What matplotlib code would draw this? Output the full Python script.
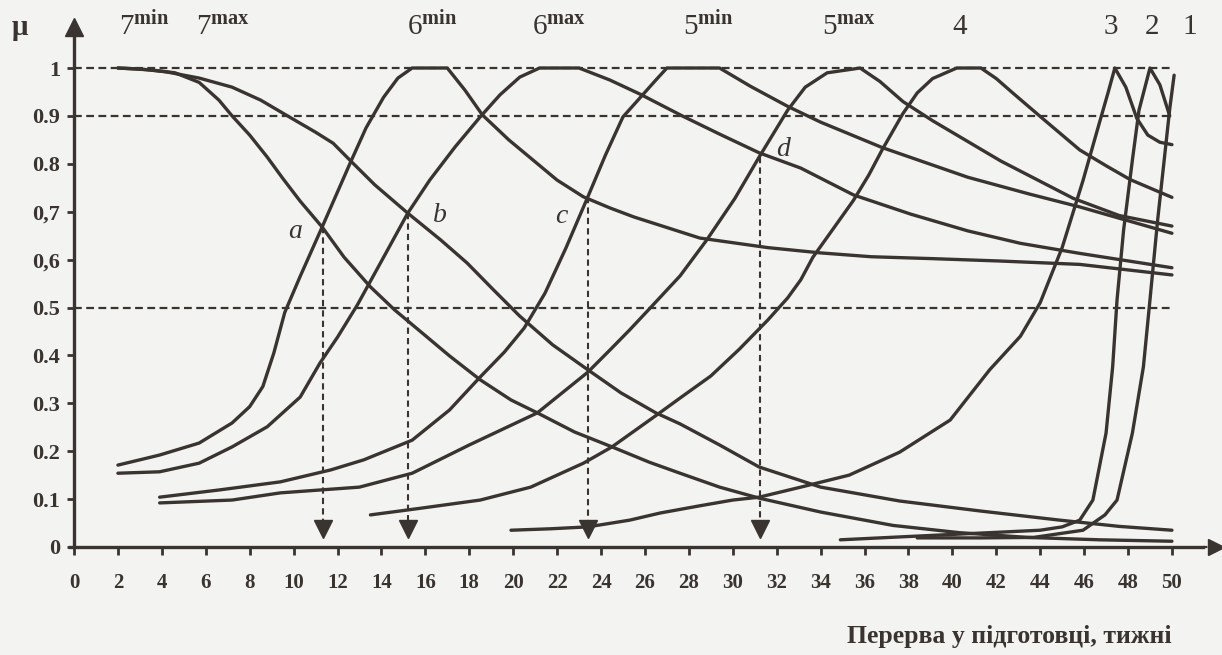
import matplotlib
matplotlib.use("Agg")
import matplotlib.pyplot as plt

# ---------------- data (weeks, membership) ----------------
w_7min = [2, 3.5, 4.6, 5.7, 6.6, 7.2, 8.0, 8.8, 9.5, 10.3, 11.3, 12.3, 13.5, 14.6, 15.8, 17.1,
          18.5, 19.9, 21.1, 22.8, 24.5, 26.2, 27.6, 29.4, 31.2, 34.0, 37.3, 40.3, 43.4, 46.7, 50]
m_7min = [1.0, 0.996, 0.99, 0.97, 0.933, 0.90, 0.86, 0.814, 0.77, 0.722, 0.668, 0.605, 0.543, 0.495,
          0.449, 0.399, 0.349, 0.307, 0.28, 0.24, 0.209, 0.177, 0.154, 0.125, 0.102, 0.073, 0.045,
          0.03, 0.02, 0.015, 0.012]

w_7max = [2, 3.0, 4.2, 5.7, 7.2, 8.5, 9.8, 11.0, 11.8, 12.6, 13.7, 15.2, 16.7, 17.9, 19.1, 20.3,
          21.8, 23.4, 24.9, 26.5, 27.6, 29.4, 31.2, 34.0, 37.6, 41.3, 44.9, 47.6, 50]
m_7max = [1.0, 0.998, 0.992, 0.979, 0.96, 0.933, 0.898, 0.866, 0.843, 0.806, 0.756, 0.697, 0.641,
          0.593, 0.537, 0.482, 0.422, 0.37, 0.322, 0.28, 0.257, 0.213, 0.167, 0.125, 0.096, 0.075,
          0.056, 0.043, 0.035]

w_6min = [2, 3.0, 3.9, 5.7, 7.2, 8.0, 8.6, 9.1, 9.6, 10.3, 11.3, 12.6, 13.3, 14.1, 14.75, 15.4,
          17.0, 17.8, 18.6, 19.8, 20.9, 22.0, 23.2, 24.4, 25.5, 28.5, 31.6, 34.0, 36.3, 39.1, 42.2,
          45.8, 50]
m_6min = [0.171, 0.182, 0.192, 0.217, 0.259, 0.293, 0.335, 0.405, 0.49, 0.565, 0.668, 0.804, 0.875,
          0.939, 0.979, 1.0, 1.0, 0.954, 0.902, 0.85, 0.808, 0.766, 0.731, 0.708, 0.689, 0.645,
          0.625, 0.614, 0.606, 0.602, 0.597, 0.59, 0.568]

w_6max = [2, 3.9, 5.7, 7.2, 8.8, 10.3, 11.2, 12.0, 12.9, 14.1, 15.2, 16.2, 17.35, 18.5, 19.4, 20.3,
          21.2, 23.0, 24.4, 25.8, 27.7, 29.4, 31.2, 33.1, 35.5, 38.1, 40.7, 43.1, 45.8, 50]
m_6max = [0.154, 0.157, 0.175, 0.209, 0.251, 0.313, 0.384, 0.438, 0.505, 0.605, 0.697, 0.766, 0.835,
          0.898, 0.944, 0.981, 1.0, 1.0, 0.975, 0.945, 0.9, 0.862, 0.823, 0.791, 0.735, 0.695,
          0.66, 0.634, 0.613, 0.583]

w_5min = [3.9, 6.6, 9.4, 11.7, 13.2, 15.4, 17.1, 18.5, 19.6, 20.5, 21.45, 22.4, 23.4, 24.2, 25.0,
          25.8, 26.5, 27.0, 29.4, 30.8, 32.5, 34.0, 36.8, 40.7, 43.5, 45.8, 50]
m_5min = [0.104, 0.119, 0.136, 0.161, 0.182, 0.223, 0.286, 0.355, 0.407, 0.457, 0.53, 0.624, 0.731,
          0.818, 0.898, 0.939, 0.975, 1.0, 1.0, 0.962, 0.92, 0.887, 0.834, 0.772, 0.737, 0.71, 0.655]

w_5max = [3.9, 7.2, 9.4, 11.2, 13.0, 15.4, 18.0, 21.1, 23.4, 24.4, 25.3, 26.2, 27.6, 28.8, 30.1,
          31.2, 32.5, 33.3, 34.3, 35.8, 36.7, 37.75, 39.1, 42.2, 45.5, 47.6, 50]
m_5max = [0.092, 0.098, 0.113, 0.119, 0.125, 0.154, 0.213, 0.28, 0.365, 0.411, 0.453, 0.497, 0.566,
          0.64, 0.728, 0.814, 0.912, 0.96, 0.99, 1.0, 0.972, 0.93, 0.89, 0.806, 0.728, 0.692, 0.67]

w_4 = [13.5, 15.8, 18.5, 20.8, 23.2, 24.5, 26.55, 27.6, 29.0, 30.3, 31.6, 32.5, 33.1, 33.65, 34.6,
       35.5, 36.2, 36.8, 37.75, 38.4, 39.1, 40.2, 41.3, 42.0, 42.8, 44.1, 45.8, 47.0, 48.1, 50]
m_4 = [0.067, 0.081, 0.098, 0.125, 0.175, 0.209, 0.276, 0.311, 0.357, 0.413, 0.474, 0.52, 0.558,
       0.605, 0.666, 0.724, 0.777, 0.829, 0.905, 0.948, 0.978, 1.0, 1.0, 0.978, 0.946, 0.895, 0.829,
       0.796, 0.767, 0.73]

w_3 = [19.9, 21.7, 23.4, 25.3, 26.7, 28.5, 30.0, 31.2, 33.1, 35.3, 37.6, 39.9, 41.7, 43.1, 44.0,
       45.0, 45.95, 46.6, 47.1, 47.4, 47.9, 48.4, 48.9, 49.45, 50]
m_3 = [0.035, 0.038, 0.042, 0.056, 0.071, 0.086, 0.098, 0.104, 0.125, 0.15, 0.198, 0.265, 0.37,
       0.44, 0.51, 0.625, 0.765, 0.87, 0.95, 1.0, 0.96, 0.895, 0.86, 0.845, 0.84]

w_2 = [34.9, 37.6, 40.35, 42.2, 44.0, 45.0, 45.8, 46.4, 47.0, 47.3, 47.5, 47.8, 48.2, 48.5, 49.0,
       49.45, 49.9]
m_2 = [0.015, 0.021, 0.027, 0.031, 0.035, 0.042, 0.056, 0.098, 0.238, 0.376, 0.516, 0.662, 0.808,
       0.912, 1.0, 0.965, 0.9]

w_1 = [38.4, 41.3, 43.7, 45.95, 46.95, 47.5, 48.2, 48.7, 49.0, 49.35, 49.7, 49.9, 50.1]
m_1 = [0.019, 0.019, 0.02, 0.035, 0.067, 0.098, 0.238, 0.376, 0.516, 0.683, 0.83, 0.915, 0.985]

curves = [(w_7min, m_7min), (w_7max, m_7max), (w_6min, m_6min), (w_6max, m_6max),
          (w_5min, m_5min), (w_5max, m_5max), (w_4, m_4), (w_3, m_3), (w_2, m_2), (w_1, m_1)]

# term labels above the curves
term_labels = [r"$7^{\mathbf{min}}$", r"$7^{\mathbf{max}}$", r"$6^{\mathbf{min}}$", r"$6^{\mathbf{max}}$",
               r"$5^{\mathbf{min}}$", r"$5^{\mathbf{max}}$", "4", "3", "2", "1"]
term_label_w = [3.2, 6.8, 16.3, 22.1, 28.9, 35.3, 40.35, 47.2, 49.1, 50.8]

# intersection points a, b, c, d (week, membership)
point_names = ["a", "b", "c", "d"]
point_w = [11.34, 15.2, 23.4, 31.24]
point_m = [0.668, 0.697, 0.731, 0.814]

x_ticks = list(range(0, 51, 2))
y_ticks = [0, 0.1, 0.2, 0.3, 0.4, 0.5, 0.6, 0.7, 0.8, 0.9, 1.0]
y_tick_labels = ["0", "0.1", "0.2", "0.3", "0.4", "0.5", "0,6", "0,7", "0.8", "0.9", "1"]
ref_levels = [1.0, 0.9, 0.5]

x_title = "Перерва у підготовці, тижні"
y_title = "μ"

# ---------------- drawing ----------------
ink = "#3a3431"
bg = "#f3f3f1"
plt.rcParams["font.family"] = ["Liberation Serif", "DejaVu Serif"]
plt.rcParams["mathtext.fontset"] = "custom"
plt.rcParams["mathtext.rm"] = "Liberation Serif"
plt.rcParams["mathtext.bf"] = "Liberation Serif:bold"
plt.rcParams["mathtext.it"] = "Liberation Serif:italic"

fig = plt.figure(figsize=(12.22, 6.55), dpi=100)
fig.patch.set_facecolor(bg)
ax = fig.add_axes([0, 0, 1, 1])
ax.set_facecolor(bg)
ax.set_xlim(-3.37, 52.28)
ax.set_ylim(-0.2255, 1.142)

for s in ["top", "right"]:
    ax.spines[s].set_visible(False)
ax.spines["left"].set_position(("data", 0))
ax.spines["bottom"].set_position(("data", 0))
ax.spines["left"].set_bounds(0, 1.075)
ax.spines["bottom"].set_bounds(-0.2, 51.4)
for s in ["left", "bottom"]:
    ax.spines[s].set_linewidth(2.4)
    ax.spines[s].set_color(ink)

ax.set_xticks(x_ticks)
ax.set_xticklabels([str(t) for t in x_ticks])
ax.set_yticks(y_ticks)
ax.set_yticklabels(y_tick_labels)
ax.tick_params(axis="x", direction="out", length=6, width=2, color=ink, pad=13,
               labelsize=15, labelcolor=ink)
ax.tick_params(axis="y", direction="out", length=5, width=2, color=ink, pad=5,
               labelsize=16, labelcolor=ink)
for lab in ax.get_xticklabels() + ax.get_yticklabels():
    lab.set_fontweight("bold")

# axis arrows
ax.plot([51.4, 52.0], [0, 0], color=ink, lw=1.6, ls=(0, (2, 1.5)))
ax.plot(52.0, 0, marker=">", ms=12, color=ink, clip_on=False)
ax.plot(0, 1.085, marker="^", ms=13, color=ink, clip_on=False)

# dashed reference levels
for lv in ref_levels:
    ax.plot([0, 50], [lv, lv], color=ink, lw=1.6, ls=(0, (3.5, 2)))

# dashed drop lines with arrowheads
for nm, pw, pm in zip(point_names, point_w, point_m):
    ax.plot([pw, pw], [pm, 0.05], color=ink, lw=1.5, ls=(0, (3, 2)))
    ax.plot(pw, 0.038, marker="v", ms=13, color=ink)

# membership curves
for wv, mv in curves:
    ax.plot(wv, mv, color=ink, lw=2.4, solid_capstyle="round", solid_joinstyle="round")

# point letters
letter_off = {"a": (-1.25, -0.01), "b": (1.45, -0.004), "c": (-1.2, -0.042), "d": (1.05, 0.015)}
for nm, pw, pm in zip(point_names, point_w, point_m):
    dx, dy = letter_off[nm]
    ax.text(pw + dx, pm + dy, nm, fontsize=20, style="italic", color=ink,
            ha="center", va="center")

# term labels
for lab, tw in zip(term_labels, term_label_w):
    ax.text(tw, 1.085, lab, fontsize=21, color=ink, ha="center", va="center")

ax.text(-2.45, 1.085, y_title, fontsize=21, color=ink, ha="center", va="center",
        fontweight="bold")
ax.text(42.6, -0.186, x_title, fontsize=18.5, color=ink, ha="center", va="center",
        fontweight="bold")

fig.savefig("out.png", dpi=100, facecolor=bg)
